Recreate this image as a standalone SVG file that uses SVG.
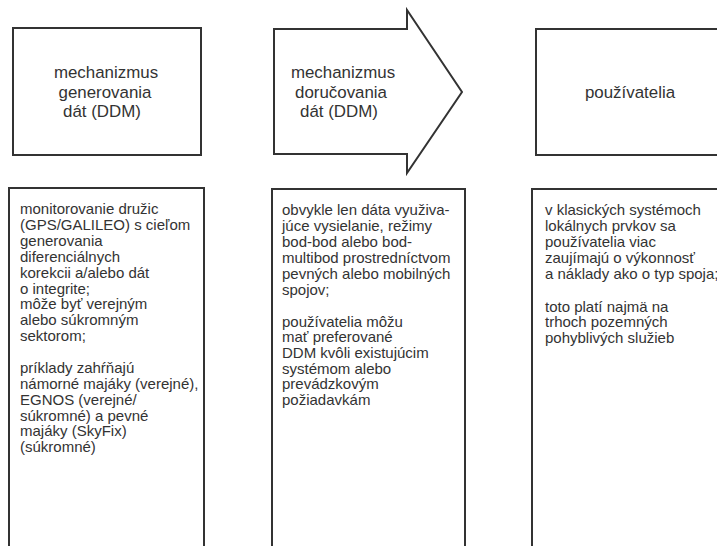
<svg xmlns="http://www.w3.org/2000/svg" width="717" height="546" viewBox="0 0 717 546">
<style>
.box{fill:#fff;stroke:#333;stroke-width:2}
.title{font-family:"Liberation Sans",Arial,sans-serif;font-size:16.9px;fill:#333;text-anchor:middle}
.body{font-family:"Liberation Sans",Arial,sans-serif;font-size:15px;fill:#333}
</style>
<rect width="717" height="546" fill="#fff"/>
<g id="node-generovanie">
<rect class="box" x="13" y="28" width="188" height="127"/>
<text class="title"><tspan x="106" y="78">mechanizmus</tspan><tspan x="105" y="97.5">generovania</tspan><tspan x="102" y="117">dát (DDM)</tspan></text>
</g>
<g id="node-dorucovanie">
<polygon class="box" points="274,29 407,29 407,10 462,92 407,173 407,154 274,154"/>
<text class="title"><tspan x="343" y="78">mechanizmus</tspan><tspan x="341" y="97.5">doručovania</tspan><tspan x="339" y="117">dát (DDM)</tspan></text>
</g>
<g id="node-pouzivatelia">
<rect class="box" x="536" y="29" width="200" height="126"/>
<text class="title"><tspan x="630" y="98">používatelia</tspan></text>
</g>
<g id="desc-generovanie">
<rect class="box" x="9" y="188" width="195" height="380"/>
<text class="body" x="20">
<tspan x="20" y="214">monitorovanie družic</tspan>
<tspan x="20" y="230">(GPS/GALILEO) s cieľom</tspan>
<tspan x="20" y="246">generovania</tspan>
<tspan x="20" y="262">diferenciálnych</tspan>
<tspan x="20" y="278">korekcii a/alebo dát</tspan>
<tspan x="20" y="293.5">o integrite;</tspan>
<tspan x="20" y="309">môže byť verejným</tspan>
<tspan x="20" y="325">alebo súkromným</tspan>
<tspan x="20" y="341">sektorom;</tspan>
<tspan x="20" y="373">príklady zahŕňajú</tspan>
<tspan x="20" y="389">námorné majáky (verejné),</tspan>
<tspan x="20" y="404.5">EGNOS (verejné/</tspan>
<tspan x="20" y="420.5">súkromné) a pevné</tspan>
<tspan x="20" y="436">majáky (SkyFix)</tspan>
<tspan x="20" y="452">(súkromné)</tspan>
</text>
</g>
<g id="desc-dorucovanie">
<rect class="box" x="272" y="189" width="193" height="380"/>
<text class="body">
<tspan x="282" y="215">obvykle len dáta využiva-</tspan>
<tspan x="282" y="231">júce vysielanie, režimy</tspan>
<tspan x="282" y="247">bod-bod alebo bod-</tspan>
<tspan x="282" y="263">multibod prostredníctvom</tspan>
<tspan x="282" y="279">pevných alebo mobilných</tspan>
<tspan x="282" y="295">spojov;</tspan>
<tspan x="282" y="326.5">používatelia môžu</tspan>
<tspan x="282" y="342">mať preferované</tspan>
<tspan x="282" y="357.5">DDM kvôli existujúcim</tspan>
<tspan x="282" y="373.5">systémom alebo</tspan>
<tspan x="282" y="389">prevádzkovým</tspan>
<tspan x="282" y="405">požiadavkám</tspan>
</text>
</g>
<g id="desc-pouzivatelia">
<rect class="box" x="532" y="189" width="200" height="380"/>
<text class="body">
<tspan x="545" y="215">v klasických systémoch</tspan>
<tspan x="545" y="231">lokálnych prvkov sa</tspan>
<tspan x="545" y="247">používatelia viac</tspan>
<tspan x="545" y="263">zaujímajú o výkonnosť</tspan>
<tspan x="545" y="279">a náklady ako o typ spoja;</tspan>
<tspan x="545" y="311.5">toto platí najmä na</tspan>
<tspan x="545" y="327">trhoch pozemných</tspan>
<tspan x="545" y="343">pohyblivých služieb</tspan>
</text>
</g>
<g id="connectors"></g>
</svg>
